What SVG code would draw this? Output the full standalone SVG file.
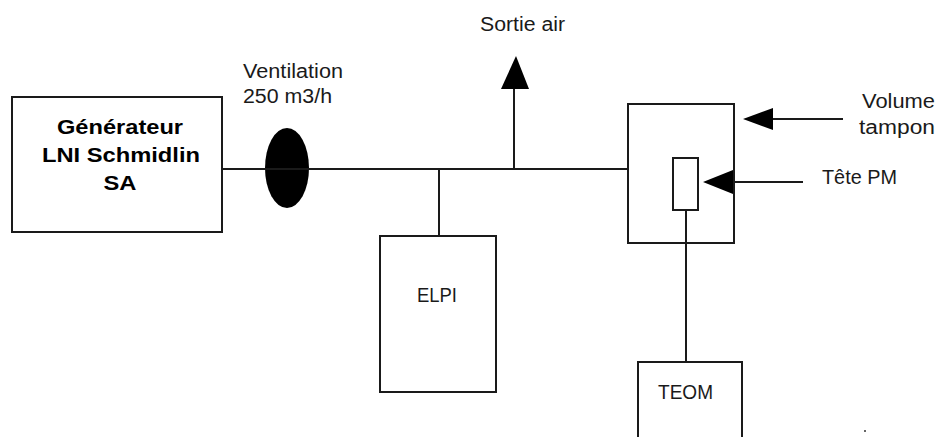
<svg xmlns="http://www.w3.org/2000/svg" width="935" height="437" viewBox="0 0 935 437">
<style>
.box{fill:#fff;stroke:#1a1a1a;stroke-width:2}
.ln{fill:none;stroke:#1a1a1a;stroke-width:2}
.t{font-family:"Liberation Sans",Arial,sans-serif;font-size:20px;fill:#1a1a1a}
.b{font-family:"Liberation Sans",Arial,sans-serif;font-size:21px;font-weight:bold;fill:#000;text-anchor:middle}
.ah{fill:#000}
</style>
<rect width="935" height="437" fill="#fff"/>
<g id="generateur">
<rect class="box" x="12" y="97" width="210" height="135"/>
<text class="b" x="120" y="134" textLength="126" lengthAdjust="spacingAndGlyphs">Générateur</text>
<text class="b" x="121" y="162" textLength="158" lengthAdjust="spacingAndGlyphs">LNI Schmidlin</text>
<text class="b" x="120" y="190" textLength="33" lengthAdjust="spacingAndGlyphs">SA</text>
</g>
<g id="ventilation">
<ellipse cx="287" cy="168" rx="22" ry="40" fill="#000"/>
<text class="t" x="243" y="78" textLength="100" lengthAdjust="spacingAndGlyphs">Ventilation</text>
<text class="t" x="243" y="103" textLength="89" lengthAdjust="spacingAndGlyphs">250 m3/h</text>
</g>
<g id="sortie">
<text class="t" x="480" y="31" textLength="85" lengthAdjust="spacingAndGlyphs">Sortie air</text>
</g>
<g id="elpi">
<rect class="box" x="380" y="236" width="116" height="156"/>
<text class="t" x="417" y="302" textLength="40" lengthAdjust="spacingAndGlyphs">ELPI</text>
</g>
<g id="volume">
<rect class="box" x="628" y="104" width="106" height="139"/>
<text class="t" x="862" y="108" textLength="73" lengthAdjust="spacingAndGlyphs">Volume</text>
<text class="t" x="859" y="134" textLength="76" lengthAdjust="spacingAndGlyphs">tampon</text>
</g>
<g id="tete">
<rect class="box" x="673" y="158" width="25" height="52"/>
<text class="t" x="822" y="184" textLength="75" lengthAdjust="spacingAndGlyphs">Tête PM</text>
</g>
<g id="teom">
<rect class="box" x="638" y="362" width="104" height="90"/>
<text class="t" x="658" y="399" textLength="55" lengthAdjust="spacingAndGlyphs">TEOM</text>
</g>
<g id="connectors">
<line class="ln" x1="222" y1="169" x2="628" y2="169"/>
<line class="ln" x1="439" y1="169" x2="439" y2="236"/>
<line class="ln" x1="514" y1="169" x2="514" y2="88"/>
<polygon class="ah" points="516,56 501,89 529,89"/>
<line class="ln" x1="686" y1="211" x2="686" y2="361"/>
<line class="ln" x1="773" y1="119" x2="843" y2="119"/>
<polygon class="ah" points="743,119 773,108 773,130"/>
<line class="ln" x1="733" y1="182" x2="803" y2="182"/>
<polygon class="ah" points="703,182 733,170 733,194"/>
</g>
<circle cx="865" cy="431" r="1" fill="#333"/>
</svg>
